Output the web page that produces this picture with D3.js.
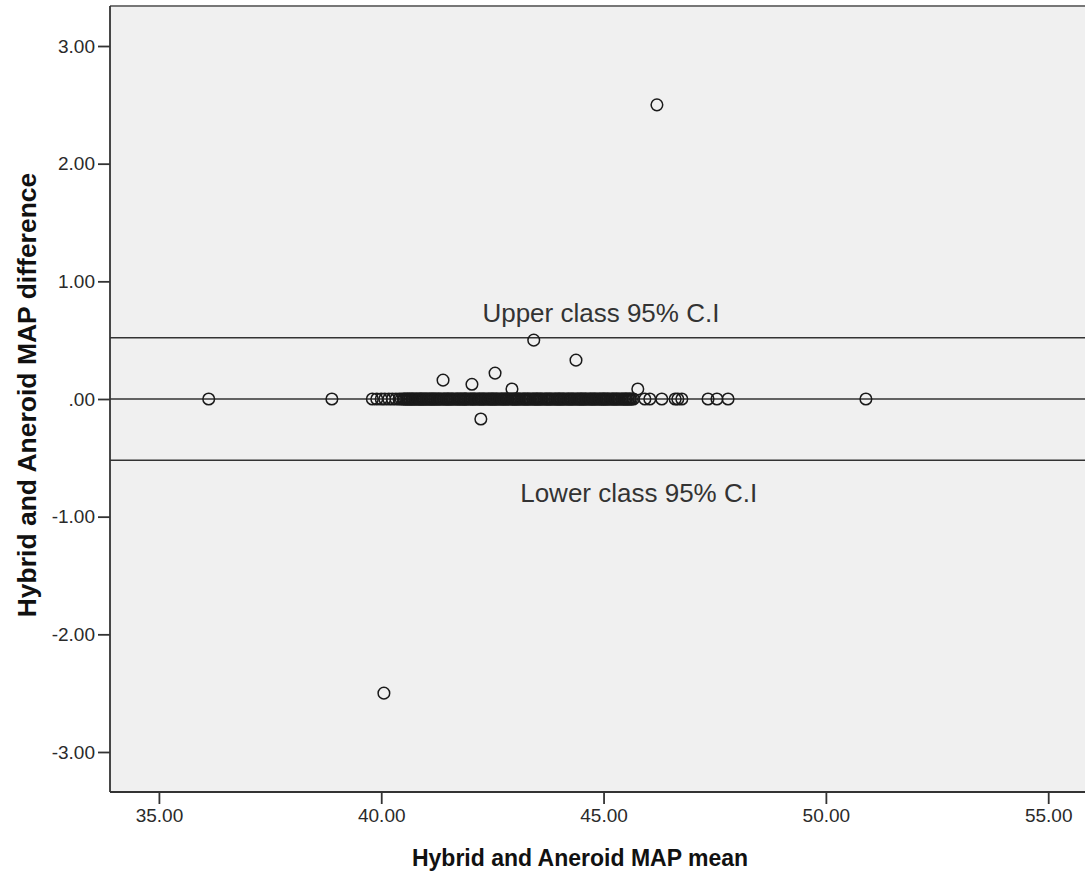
<!DOCTYPE html>
<html>
<head>
<meta charset="utf-8">
<script src="https://cdn.jsdelivr.net/npm/d3@7"></script>
<style>
  body { margin: 0; background: #fff; }
  svg { display: block; font-family: "Liberation Sans", Arial, sans-serif; }
</style>
</head>
<body>
<svg width="1085" height="874"></svg>
<script>
// points lying on the zero line (mean of the two MAP readings)
var zeroMeans = [36.12, 38.89, 39.80, 39.90, 40.00, 40.08, 40.17, 40.25, 40.33, 40.40,
  40.45, 40.50, 40.55, 40.60, 40.65, 40.70, 40.75, 40.80, 40.83, 40.88, 40.92, 40.97,
  41.00, 41.05, 41.10, 41.17, 41.20, 41.25, 41.30, 41.33, 41.40, 41.45, 41.50, 41.55,
  41.60, 41.67, 41.70, 41.75, 41.80, 41.83, 41.88, 41.92, 42.00, 42.05, 42.10, 42.17,
  42.20, 42.25, 42.30, 42.33, 42.40, 42.45, 42.50, 42.55, 42.60, 42.67, 42.70, 42.75,
  42.80, 42.83, 42.90, 42.95, 43.00, 43.05, 43.10, 43.17, 43.20, 43.25, 43.30, 43.33,
  43.40, 43.45, 43.50, 43.55, 43.60, 43.67, 43.70, 43.75, 43.80, 43.83, 43.90, 43.95,
  44.00, 44.05, 44.10, 44.17, 44.20, 44.25, 44.30, 44.33, 44.40, 44.45, 44.50, 44.55,
  44.60, 44.67, 44.70, 44.75, 44.80, 44.83, 44.90, 44.95, 45.00, 45.05, 45.10, 45.17,
  45.20, 45.25, 45.30, 45.33, 45.40, 45.45, 45.50, 45.55, 45.60, 45.67, 45.93, 46.04,
  46.31, 46.61, 46.67, 46.76, 47.35, 47.55, 47.80, 50.90];

// more zero-difference cases packed into the dense band
var zeroMeansDense = [40.52, 40.58, 40.63, 40.68, 40.72, 40.78, 40.86, 40.90, 40.95,
  41.02, 41.08, 41.13, 41.15, 41.22, 41.28, 41.36, 41.42, 41.48, 41.52, 41.58, 41.63,
  41.72, 41.78, 41.86, 41.90, 41.96, 42.02, 42.08, 42.13, 42.22, 42.28, 42.36, 42.42,
  42.48, 42.52, 42.58, 42.63, 42.72, 42.78, 42.86, 42.92, 42.98, 43.02, 43.08, 43.13,
  43.22, 43.28, 43.36, 43.42, 43.48, 43.52, 43.58, 43.63, 43.72, 43.78, 43.86, 43.92,
  43.98, 44.02, 44.08, 44.13, 44.22, 44.28, 44.36, 44.42, 44.48, 44.52, 44.58, 44.63,
  44.72, 44.78, 44.86, 44.92, 44.98, 45.02, 45.08, 45.13, 45.22, 45.28, 45.36, 45.42,
  45.48, 45.52, 45.58, 45.63];

// points off the zero line
var otherMeans = [46.20, 40.06, 43.43, 44.38, 41.39, 42.04, 42.56, 42.94, 42.24, 45.77];
var otherDiffs = [2.50, -2.50, 0.50, 0.33, 0.16, 0.125, 0.22, 0.085, -0.17, 0.085];

var meanDiff = 0.0;
var upperLimit = 0.52;
var lowerLimit = -0.52;

var xTicks = [35, 40, 45, 50, 55];
var yTicks = [-3, -2, -1, 0, 1, 2, 3];

var svg = d3.select("svg");
var pLeft = 110, pTop = 6, pBottom = 792, pRight = 1086;

var x = d3.scaleLinear().domain([33.9, 55.85]).range([pLeft, pRight]);
var y = d3.scaleLinear().domain([-3.34, 3.34]).range([pBottom, pTop]);

function fmt(v) {
  var s = Math.abs(v).toFixed(2);
  if (s.charAt(0) == "0") s = s.slice(1);
  return (v < 0 ? "-" : "") + s;
}

svg.append("rect")
    .attr("x", pLeft).attr("y", pTop)
    .attr("width", pRight - pLeft + 10).attr("height", pBottom - pTop)
    .attr("fill", "#f0f0f0");

svg.append("line")
    .attr("x1", pLeft).attr("x2", pRight + 10)
    .attr("y1", pTop).attr("y2", pTop)
    .attr("stroke", "#777").attr("stroke-width", 2);

// reference lines
[upperLimit, meanDiff, lowerLimit].forEach(function(v) {
  svg.append("line")
      .attr("x1", pLeft).attr("x2", pRight + 10)
      .attr("y1", y(v)).attr("y2", y(v))
      .attr("stroke", "#333").attr("stroke-width", 1.5);
});

svg.append("text")
    .attr("x", x(44.94)).attr("y", y(upperLimit) - 16)
    .attr("text-anchor", "middle")
    .attr("font-size", 26).attr("fill", "#333")
    .text("Upper class 95% C.I");

svg.append("text")
    .attr("x", x(45.79)).attr("y", y(lowerLimit) + 42)
    .attr("text-anchor", "middle")
    .attr("font-size", 26).attr("fill", "#333")
    .text("Lower class 95% C.I");

var pts = zeroMeans.concat(zeroMeansDense).map(function(m) { return [m, 0]; })
  .concat(otherMeans.map(function(m, i) { return [m, otherDiffs[i]]; }));

svg.selectAll(".pt")
  .data(pts)
  .enter().append("circle")
    .attr("class", "pt")
    .attr("cx", function(d) { return x(d[0]); })
    .attr("cy", function(d) { return y(d[1]); })
    .attr("r", 5.8)
    .attr("fill", "none")
    .attr("stroke", "#1a1a1a")
    .attr("stroke-width", 1.5);

// axes
var yAxis = svg.append("g")
    .attr("transform", "translate(" + pLeft + ",0)")
    .call(d3.axisLeft(y).tickValues(yTicks).tickFormat(fmt).tickSize(12).tickPadding(3));
var xAxis = svg.append("g")
    .attr("transform", "translate(0," + pBottom + ")")
    .call(d3.axisBottom(x).tickValues(xTicks).tickFormat(fmt).tickSize(12).tickPadding(5));

[xAxis, yAxis].forEach(function(g) {
  g.select(".domain").attr("stroke", "#333").attr("stroke-width", 1.8);
  g.selectAll(".tick line").attr("stroke", "#333").attr("stroke-width", 1.8);
  g.selectAll(".tick text").attr("fill", "#2a2a2a")
      .style("font-family", "'Liberation Sans', Arial, sans-serif").style("font-size", "19px");
});
yAxis.select(".domain").attr("d", "M0," + pTop + "V" + pBottom);
xAxis.select(".domain").attr("d", "M" + pLeft + ",0H" + (pRight + 10));

svg.append("text")
    .attr("x", 580).attr("y", 866)
    .attr("text-anchor", "middle")
    .attr("font-size", 23).attr("font-weight", "bold").attr("fill", "#111")
    .text("Hybrid and Aneroid MAP mean");

svg.append("text")
    .attr("transform", "translate(36,395) rotate(-90)")
    .attr("text-anchor", "middle")
    .attr("font-size", 26.5).attr("font-weight", "bold").attr("fill", "#111")
    .text("Hybrid and Aneroid MAP difference");
</script>
</body>
</html>
